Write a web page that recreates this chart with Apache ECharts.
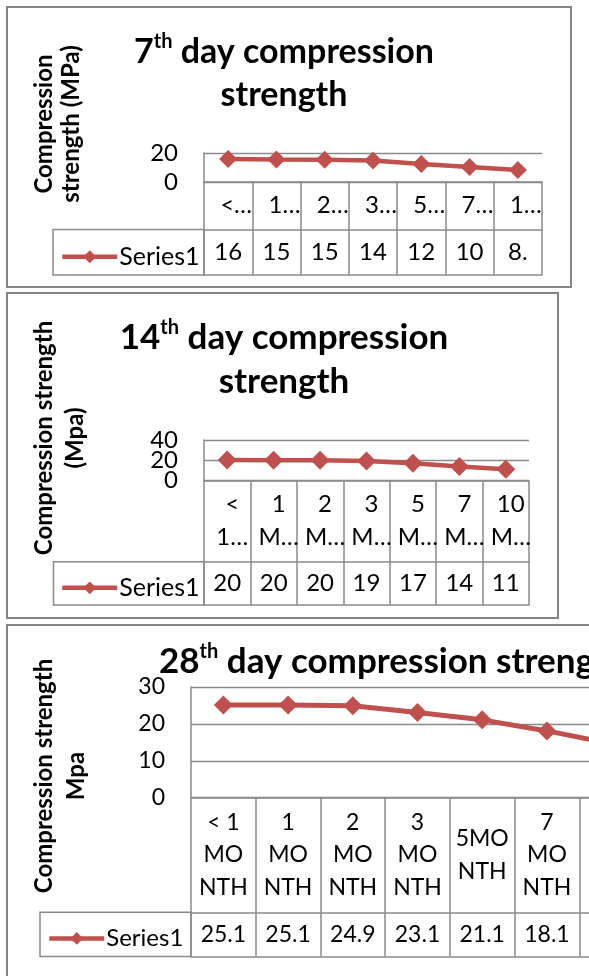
<!DOCTYPE html>
<html><head><meta charset="utf-8">
<script src="https://cdn.jsdelivr.net/npm/echarts@6/dist/echarts.min.js"></script>
<style>html,body{margin:0;padding:0;background:#fff}#c{width:589px;height:976px}</style>
</head><body><div id="c"></div>
<script>
// ---- data ----
const categories = ['< 1 MONTH', '1 MONTH', '2 MONTH', '3 MONTH', '5MONTH', '7 MONTH', '10 MONTH'];
const values7 = [15.9, 15.6, 15.4, 14.9, 12.4, 10.3, 8.3];
const values14 = [20.3, 20.2, 20.1, 19.4, 17.2, 14.0, 11.3];
const values28 = [25.1, 25.1, 24.9, 23.1, 21.1, 18.1, 14.6];
const tableText7 = ['16', '15', '15', '14', '12', '10', '8.'];
const tableText14 = ['20', '20', '20', '19', '17', '14', '11'];
const tableText28 = ['25.1', '25.1', '24.9', '23.1', '21.1', '18.1', '14.6'];
const catText7 = ['<…', '1…', '2…', '3…', '5…', '7…', '1…'];
const catText14 = ['<\n1…', '1\nM…', '2\nM…', '3\nM…', '5\nM…', '7\nM…', '10\nM…'];
const catText28 = ['< 1\nMO\nNTH', '1\nMO\nNTH', '2\nMO\nNTH', '3\nMO\nNTH', '5MO\nNTH', '7\nMO\nNTH', '10\nMO\nNTH'];
const seriesName = 'Series1';

// ---- style / layout ----
const FONT = 'Lato, "Open Sans", sans-serif';
const GRAY = '#8a8a8a';
const RED = '#C0504D';

const panels = [
  { box: [7, 7, 564, 280],
    title: ['{b|7}{s|th}{b| day compression}', '{b|strength}'], titleX: 284, titleY: [52, 95], titleAlign: 'center', titleSize: 34,
    yName: ['Compression', 'strength (MPa)'], yNameX: [44, 71], yNameY: 124,
    left: 204, top: 153, width: 338, height: 29, max: 20, interval: 20, tightTicks: false,
    catRowH: 47.5, serRowH: 45.5, cellLeft: 53, legendLeft: 60,
    catPad: 16, catLineH: 30, font: 24, symbolSize: 18, lineWidth: 4.5,
    values: values7, tableText: tableText7, catText: catText7 },
  { box: [7, 293, 551, 325],
    title: ['{b|14}{s|th}{b| day compression}', '{b|strength}'], titleX: 284, titleY: [338, 382], titleAlign: 'center', titleSize: 35,
    yName: ['Compression strength', '(Mpa)'], yNameX: [44, 75], yNameY: 438,
    left: 204, top: 440, width: 325, height: 40.7, max: 40, interval: 20, tightTicks: true,
    catRowH: 81, serRowH: 43.3, cellLeft: 53.5, legendLeft: 60,
    catPad: 10, catLineH: 33, font: 24, symbolSize: 19, lineWidth: 4.5,
    values: values14, tableText: tableText14, catText: catText14 },
  { box: [7, 625, 700, 400],
    title: ['{b|28}{s|th}{b| day compression strength}'], titleX: 159, titleY: [662], titleAlign: 'left', titleSize: 35,
    yName: ['Compression strength', 'Mpa'], yNameX: [44, 76], yNameY: 776,
    left: 191, top: 687, width: 453, height: 110.7, max: 30, interval: 10, tightTicks: false,
    catRowH: 114.6, serRowH: 44.2, cellLeft: 40, legendLeft: 47,
    catPad: 0, catLineH: 32.5, font: 23, symbolSize: 19, lineWidth: 5,
    values: values28, tableText: tableText28, catText: catText28 }
];

const grid = [], xAxis = [], yAxis = [], series = [], legend = [], graphic = [];
panels.forEach((p, i) => {
  grid.push({ left: p.left, top: p.top, width: p.width, height: p.height, containLabel: false, outerBoundsMode: 'none' });
  const lineSt = { color: GRAY, width: 1.5 };
  const lbl = { fontFamily: FONT, fontSize: p.font, color: '#000', hideOverlap: false };
  // category row
  xAxis.push({
    type: 'category', gridIndex: i, position: 'bottom', data: categories, boundaryGap: true,
    axisLine: { show: true, onZero: false, lineStyle: lineSt },
    axisTick: { show: true, interval: 0, length: p.catRowH, lineStyle: lineSt },
    axisLabel: Object.assign({ interval: 0, margin: p.catRowH / 2, verticalAlign: 'middle', align: 'center',
      lineHeight: p.catLineH, padding: [0, 0, 0, p.catPad],
      formatter: (v, idx) => p.catText[idx] }, lbl)
  });
  const xIndex = xAxis.length - 1;
  // value row of the data table
  xAxis.push({
    type: 'category', gridIndex: i, position: 'bottom', offset: p.catRowH, data: categories, boundaryGap: true,
    axisLine: { show: true, onZero: false, lineStyle: lineSt },
    axisTick: { show: true, interval: 0, length: p.serRowH, lineStyle: lineSt },
    axisLabel: Object.assign({ interval: 0, margin: p.serRowH / 2, verticalAlign: 'middle', align: 'center',
      formatter: (v, idx) => p.tableText[idx] }, lbl)
  });
  // bottom edge of the table
  xAxis.push({
    type: 'category', gridIndex: i, position: 'bottom', offset: p.catRowH + p.serRowH, data: categories,
    axisLine: { show: true, onZero: false, lineStyle: lineSt }, axisTick: { show: false }, axisLabel: { show: false }
  });
  const isEnd = v => v === 0 || v === p.max;
  yAxis.push({
    type: 'value', gridIndex: i, position: 'left', min: 0, max: p.max, interval: p.interval,
    axisLine: { show: true, onZero: false, lineStyle: lineSt }, axisTick: { show: false },
    splitLine: { show: true, lineStyle: { color: GRAY, width: 1.3 } },
    axisLabel: Object.assign({ margin: 26, showMinLabel: true, showMaxLabel: true,
      formatter: v => (!p.tightTicks || isEnd(v)) ? String(v) : '' }, lbl)
  });
  const yIndex = yAxis.length - 1;
  if (p.tightTicks) {
    // tick labels are closer than one text line: the inner labels go on a twin axis
    yAxis.push({
      type: 'value', gridIndex: i, position: 'left', min: 0, max: p.max, interval: p.interval,
      axisLine: { show: false, onZero: false }, axisTick: { show: false }, splitLine: { show: false },
      axisLabel: Object.assign({ margin: 26, showMinLabel: true, showMaxLabel: true,
        formatter: v => isEnd(v) ? '' : String(v) }, lbl)
    });
  }
  series.push({
    type: 'line', name: seriesName, xAxisIndex: xIndex, yAxisIndex: yIndex, data: p.values,
    symbol: 'diamond', symbolSize: p.symbolSize, z: 5,
    lineStyle: { color: RED, width: p.lineWidth }, itemStyle: { color: RED }
  });
  const rowTop = p.top + p.height + p.catRowH;
  legend.push({
    data: [seriesName], left: p.legendLeft, top: rowTop + p.serRowH / 2 - 8, padding: 0,
    itemWidth: 55, itemHeight: 16, selectedMode: false,
    lineStyle: { width: 4.5 },
    textStyle: { fontFamily: FONT, fontSize: p.font + 1, color: '#000', padding: [0, 0, 0, -3] }
  });
  // chart frame
  graphic.push({ type: 'rect', shape: { x: p.box[0], y: p.box[1], width: p.box[2], height: p.box[3] },
    style: { fill: 'none', stroke: '#858585', lineWidth: 2 }, z: 0 });
  // legend-key cell of the data table
  graphic.push({ type: 'rect', shape: { x: p.cellLeft, y: rowTop, width: p.left - p.cellLeft, height: p.serRowH },
    style: { fill: 'none', stroke: GRAY, lineWidth: 1.5 } });
  // chart title
  p.title.forEach((t, k) => {
    graphic.push({ type: 'text', x: p.titleX, y: p.titleY[k], style: {
      text: t, align: p.titleAlign, verticalAlign: 'middle',
      rich: { b: { fontFamily: FONT, fontSize: p.titleSize, fontWeight: 'bold', color: '#000', lineHeight: 40 },
              s: { fontFamily: FONT, fontSize: 20, fontWeight: 'bold', color: '#000', verticalAlign: 'top', lineHeight: 20 } } } });
  });
  // vertical axis title
  p.yName.forEach((t, k) => {
    graphic.push({ type: 'text', x: p.yNameX[k], y: p.yNameY, rotation: Math.PI / 2, style: {
      text: t, align: 'center', verticalAlign: 'middle', fontFamily: FONT, fontSize: 24, fontWeight: 'bold', fill: '#000' } });
  });
});

const chart = echarts.init(document.getElementById('c'), null, { renderer: 'canvas' });
chart.setOption({ animation: false, backgroundColor: '#fff', grid, xAxis, yAxis, series, legend, graphic });
</script></body></html>
